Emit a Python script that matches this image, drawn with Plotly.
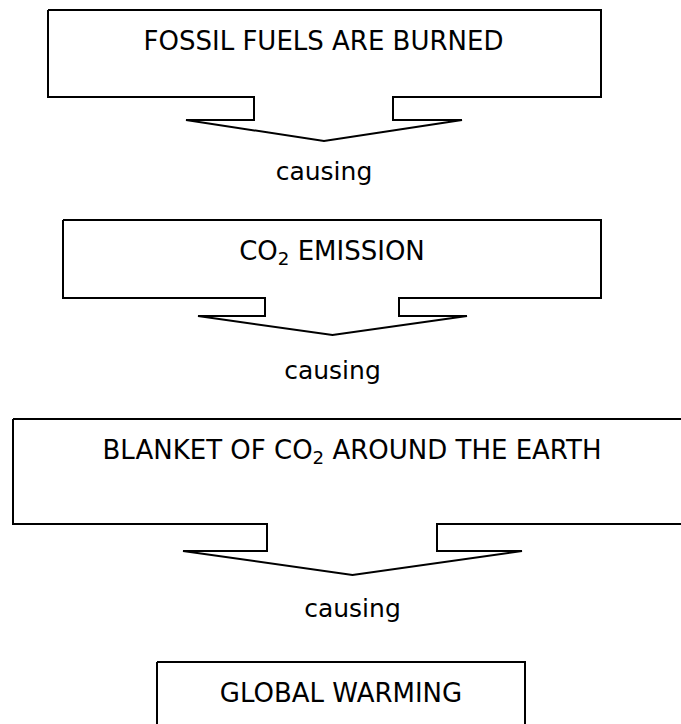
import plotly.graph_objects as go

# ---- content ----
labels = ["FOSSIL FUELS ARE BURNED",
          "CO<sub>2</sub> EMISSION",
          "BLANKET OF CO<sub>2</sub> AROUND THE EARTH",
          "GLOBAL WARMING"]
connector_label = "causing"

# ---- box geometry (pixel units, y downward) ----
box_left = [48, 63, 13, 157]
box_right = [601, 601, 700, 525]
box_top = [10, 220, 419, 662]
box_bottom = [97, 298, 524, 760]

# ---- arrow geometry under boxes 1..3 ----
stem_left = [254, 265, 267]
stem_right = [393, 399, 437]
wing_left = [186, 198, 183]
wing_right = [462, 467, 522]
wing_y = [120, 316, 551]
tip_y = [141, 335, 575]

# ---- text positions ----
label_y = [43.5, 253.5, 452, 695]
connector_y = [174, 373, 611]

W, H = 681, 724
FONT = "DejaVu Sans, Verdana, sans-serif"

fig = go.Figure()

for i in range(len(labels)):
    L, R, T, B = box_left[i], box_right[i], box_top[i], box_bottom[i]
    if i < len(stem_left):
        sl, sr = stem_left[i], stem_right[i]
        wl, wr, wy, ty = wing_left[i], wing_right[i], wing_y[i], tip_y[i]
        tx = (wl + wr) / 2
        xs = [L, R, R, sr, sr, wr, tx, wl, sl, sl, L, L]
        ys = [T, T, B, B, wy, wy, ty, wy, wy, B, B, T]
    else:
        xs = [L, R, R, L, L]
        ys = [T, T, B, B, T]
    fig.add_trace(go.Scatter(x=xs, y=ys, mode="lines",
                             line=dict(color="black", width=2),
                             hoverinfo="skip", showlegend=False))

# labels centred on each stem / box
label_x = []
for i in range(len(labels)):
    if i < len(stem_left):
        label_x.append((stem_left[i] + stem_right[i]) / 2)
    else:
        label_x.append((box_left[i] + box_right[i]) / 2)

fig.add_trace(go.Scatter(x=label_x, y=label_y, mode="text", text=labels,
                         textposition="middle center",
                         textfont=dict(family=FONT, size=26, color="black"),
                         hoverinfo="skip", showlegend=False))

conn_x = [(wing_left[i] + wing_right[i]) / 2 for i in range(len(wing_left))]
fig.add_trace(go.Scatter(x=conn_x, y=connector_y, mode="text",
                         text=[connector_label] * len(conn_x),
                         textposition="middle center",
                         textfont=dict(family=FONT, size=25, color="black"),
                         hoverinfo="skip", showlegend=False))

# the reference crops the descender of each "causing" (text-box clipping)
for cx, cy in zip(conn_x, connector_y):
    fig.add_shape(type="rect", xref="x", yref="y",
                  x0=cx - 60, x1=cx + 60, y0=cy + 11, y1=cy + 22,
                  fillcolor="white", line=dict(width=0), layer="above")

fig.update_xaxes(range=[0, W], visible=False, fixedrange=True)
fig.update_yaxes(range=[H, 0], visible=False, fixedrange=True)
fig.update_layout(width=W, height=H, margin=dict(l=0, r=0, t=0, b=0),
                  paper_bgcolor="white", plot_bgcolor="white")

fig.write_html("out.html", config={"displayModeBar": False},
               post_script="document.body.style.margin='0px';")
